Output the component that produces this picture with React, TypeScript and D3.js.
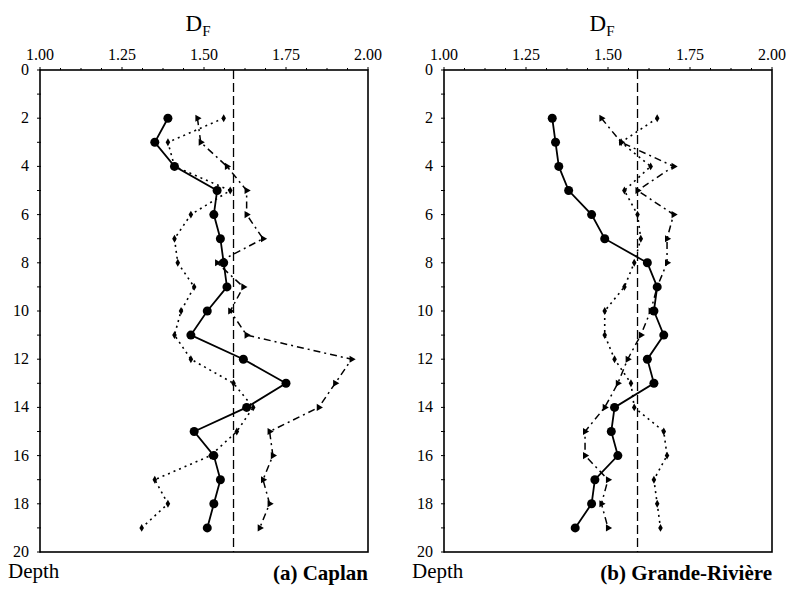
import React from "react";
import * as d3 from "d3";

const depths = [2, 3, 4, 5, 6, 7, 8, 9, 10, 11, 12, 13, 14, 15, 16, 17, 18, 19];

// (a) Caplan
const caplanSolid = [1.39, 1.35, 1.41, 1.54, 1.53, 1.55, 1.56, 1.57, 1.51, 1.46, 1.62, 1.75, 1.63, 1.47, 1.53, 1.55, 1.53, 1.51];
const caplanDotted = [1.56, 1.39, 1.41, 1.58, 1.46, 1.41, 1.42, 1.47, 1.43, 1.41, 1.46, 1.59, 1.65, 1.60, 1.52, 1.35, 1.39, 1.31];
const caplanDashDot = [1.48, 1.49, 1.57, 1.63, 1.63, 1.68, 1.54, 1.62, 1.58, 1.63, 1.95, 1.90, 1.85, 1.70, 1.71, 1.68, 1.70, 1.67];

// (b) Grande-Rivière
const grandeSolid = [1.33, 1.34, 1.35, 1.38, 1.45, 1.49, 1.62, 1.65, 1.64, 1.67, 1.62, 1.64, 1.52, 1.51, 1.53, 1.46, 1.45, 1.40];
const grandeDotted = [1.65, 1.54, 1.63, 1.55, 1.59, 1.60, 1.58, 1.55, 1.49, 1.49, 1.52, 1.57, 1.58, 1.67, 1.68, 1.64, 1.65, 1.66];
const grandeDashDot = [1.48, 1.54, 1.70, 1.59, 1.70, 1.68, 1.68, 1.65, 1.63, 1.60, 1.56, 1.53, 1.49, 1.43, 1.43, 1.50, 1.48, 1.50];

const xTickLabels = ["1.00", "1.25", "1.50", "1.75", "2.00"];
const depthTickLabels = ["0", "2", "4", "6", "8", "10", "12", "14", "16", "18", "20"];
const referenceDF = 1.59;

const FONT = "'Liberation Serif', 'DejaVu Serif', serif";

type PanelProps = {
  x0: number;
  x1: number;
  solid: number[];
  dotted: number[];
  dashDot: number[];
  title: string;
};

function Panel({ x0, x1, solid, dotted, dashDot, title }: PanelProps) {
  const x = d3.scaleLinear().domain([1, 2]).range([x0, x1]);
  const y = d3.scaleLinear().domain([0, 20]).range([70, 552]);
  const line = (vals: number[]) =>
    d3.line<number>().x((v) => x(v)).y((_, i) => y(depths[i]))(vals) || "";
  const minorX = d3.range(0, 17).map((i) => 1 + i / 16);
  const minorY = d3.range(0, 21);
  const tri = d3.symbol().type(d3.symbolTriangle).size(22)() || "";
  const dia = d3.symbol().type(d3.symbolDiamond).size(18)() || "";
  const cx = (x0 + x1) / 2;
  return (
    <g>
      {/* Title D_F */}
      <text x={cx - 6} y={31} fontFamily={FONT} fontSize={23} textAnchor="middle">
        D<tspan fontSize={15} dy={5}>F</tspan>
      </text>
      {/* top tick labels */}
      {xTickLabels.map((t) => (
        <text key={t} x={x(+t)} y={60} fontFamily={FONT} fontSize={16} textAnchor="middle">
          {t}
        </text>
      ))}
      {/* minor ticks top */}
      {minorX.map((v, i) => (
        <line key={"tx" + i} x1={x(v)} x2={x(v)} y1={y(0)} y2={y(0) - (i % 4 === 0 ? 3 : 2)} stroke="#000" strokeWidth={1} />
      ))}
      {/* depth labels */}
      {depthTickLabels.map((t) => (
        <text key={t} x={x0 - 11} y={y(+t) + 5} fontFamily={FONT} fontSize={16} textAnchor="end">
          {t}
        </text>
      ))}
      {minorY.map((d) => (
        <line key={"ty" + d} x1={x0 - 3} x2={x0 + 1} y1={y(d)} y2={y(d)} stroke="#000" strokeWidth={1} />
      ))}
      {/* frame */}
      <rect x={x0} y={y(0)} width={x1 - x0} height={y(20) - y(0)} fill="none" stroke="#000" strokeWidth={1.6} />
      {/* reference dashed line */}
      <line x1={x(referenceDF)} x2={x(referenceDF)} y1={y(0)} y2={y(20)} stroke="#000" strokeWidth={1.3} strokeDasharray="9,4" />
      {/* dotted series */}
      <path d={line(dotted)} fill="none" stroke="#000" strokeWidth={1.6} strokeDasharray="2,4" />
      {dotted.map((v, i) => (
        <path key={"d" + i} d={dia} transform={`translate(${x(v)},${y(depths[i])})`} fill="#000" />
      ))}
      {/* dash-dot series */}
      <path d={line(dashDot)} fill="none" stroke="#000" strokeWidth={1.5} strokeDasharray="7,4,2,4" />
      {dashDot.map((v, i) => (
        <path key={"t" + i} d={tri} transform={`translate(${x(v)},${y(depths[i])}) rotate(90)`} fill="#000" />
      ))}
      {/* solid series */}
      <path d={line(solid)} fill="none" stroke="#000" strokeWidth={1.8} />
      {solid.map((v, i) => (
        <circle key={"c" + i} cx={x(v)} cy={y(depths[i])} r={4.5} fill="#000" />
      ))}
      {/* labels */}
      <text x={x0 - 32} y={578} fontFamily={FONT} fontSize={21}>
        Depth
      </text>
      <text x={x1} y={580} fontFamily={FONT} fontSize={21} fontWeight="bold" textAnchor="end">
        {title}
      </text>
    </g>
  );
}

export default function App() {
  return (
    <svg width={789} height={594} style={{ position: "absolute", left: 0, top: 0, background: "#fff" }}>
      <rect width={789} height={594} fill="#fff" />
      <Panel x0={40} x1={368} solid={caplanSolid} dotted={caplanDotted} dashDot={caplanDashDot} title="(a) Caplan" />
      <Panel x0={444} x1={772} solid={grandeSolid} dotted={grandeDotted} dashDot={grandeDashDot} title="(b) Grande-Rivière" />
    </svg>
  );
}
